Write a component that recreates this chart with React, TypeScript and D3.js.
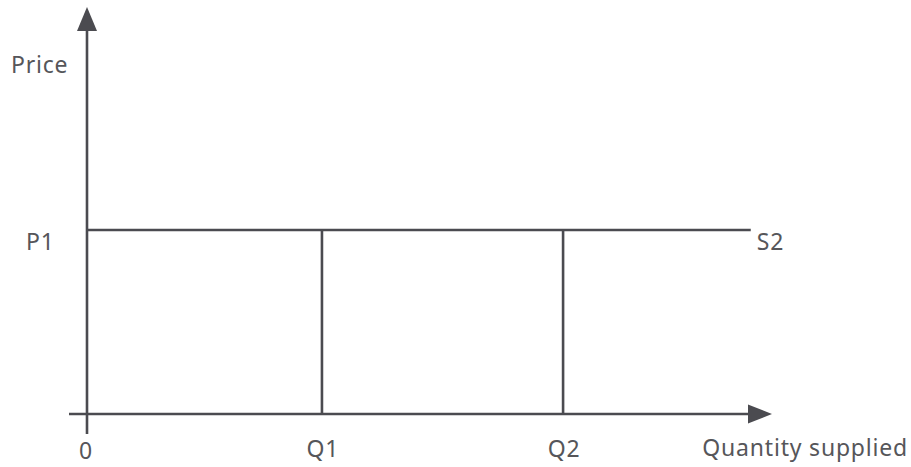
import React, { useEffect, useRef } from 'react';
import * as d3 from 'd3';

// Supply diagram values (arbitrary 0..100 units)
const priceLevels = [{ label: 'P1', value: 45.2 }];
const quantityLevels = [
  { label: 'Q1', value: 34.3 },
  { label: 'Q2', value: 69.5 },
];
const supplyEnd = 96.9;
const supplyLabel = 'S2';
const axisLabels = { x: 'Quantity supplied', y: 'Price', origin: '0' };

const W = 911;
const H = 467;
const INK = '#4b4b50';
const TEXT = '#56565a';
const FONT = '"Noto Sans", "Open Sans", sans-serif';

export default function App() {
  const svgRef = useRef<SVGSVGElement>(null);

  useEffect(() => {
    document.body.style.margin = '0';
    if (!svgRef.current) return;
    const svg = d3.select(svgRef.current);
    svg.selectAll('*').remove();

    const x = d3.scaleLinear().domain([0, 100]).range([87, 772]);
    const y = d3.scaleLinear().domain([0, 100]).range([414, 7]);

    const g = svg.append('g');

    // axes
    g.append('line')
      .attr('x1', x(0)).attr('x2', x(0))
      .attr('y1', y(0) + 20).attr('y2', y(100) + 20)
      .attr('stroke', INK).attr('stroke-width', 2.6);
    g.append('path')
      .attr('d', `M${x(0)},${y(100)} L${x(0) - 10},${y(100) + 24} L${x(0) + 10},${y(100) + 24} Z`)
      .attr('fill', INK);

    g.append('line')
      .attr('x1', x(0) - 18).attr('x2', x(100) - 20)
      .attr('y1', y(0)).attr('y2', y(0))
      .attr('stroke', INK).attr('stroke-width', 2.6);
    g.append('path')
      .attr('d', `M${x(100)},${y(0)} L${x(100) - 24},${y(0) - 9.5} L${x(100) - 24},${y(0) + 9.5} Z`)
      .attr('fill', INK);

    // supply line
    priceLevels.forEach(p => {
      g.append('line')
        .attr('x1', x(0)).attr('x2', x(supplyEnd))
        .attr('y1', y(p.value)).attr('y2', y(p.value))
        .attr('stroke', INK).attr('stroke-width', 2.6);
      g.append('text')
        .attr('x', 26).attr('y', y(p.value) + 20)
        .text(p.label);
      g.append('text')
        .attr('x', x(supplyEnd) + 6).attr('y', y(p.value) + 20)
        .text(supplyLabel);
    });

    // quantity drop lines
    quantityLevels.forEach(q => {
      g.append('line')
        .attr('x1', x(q.value)).attr('x2', x(q.value))
        .attr('y1', y(priceLevels[0].value)).attr('y2', y(0))
        .attr('stroke', INK).attr('stroke-width', 2.6);
      g.append('text')
        .attr('x', x(q.value) + 1).attr('y', 457)
        .attr('text-anchor', 'middle')
        .text(q.label);
    });

    g.append('text')
      .attr('x', x(0) - 1).attr('y', 459)
      .attr('text-anchor', 'middle')
      .text(axisLabels.origin);
    g.append('text')
      .attr('x', 11).attr('y', 73)
      .text(axisLabels.y);
    g.append('text')
      .attr('x', 908).attr('y', 456)
      .attr('text-anchor', 'end')
      .text(axisLabels.x);

    g.selectAll('text')
      .attr('font-family', FONT)
      .attr('font-size', 23)
      .attr('letter-spacing', 0.8)
      .attr('fill', TEXT);
  }, []);

  return <svg ref={svgRef} width={W} height={H} style={{ display: 'block', background: '#fff' }} />;
}
